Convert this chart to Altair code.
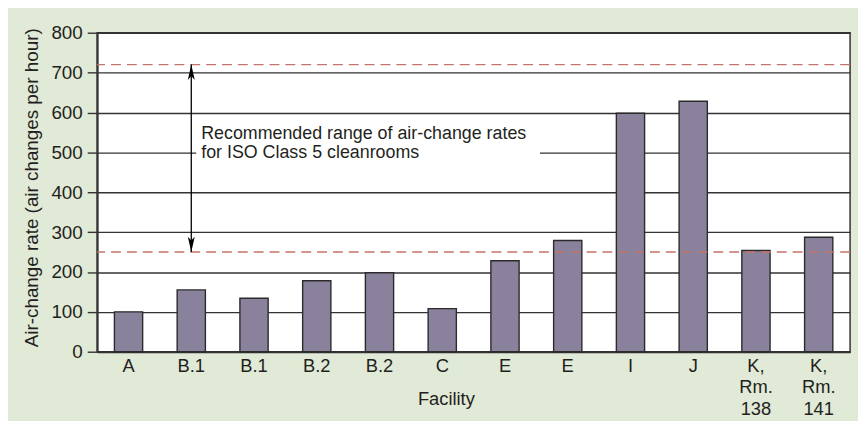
import json
import altair as alt
import pandas as pd

# ---- data ----
facilities = ["A", "B.1", "B.1", "B.2", "B.2", "C", "E", "E", "I", "J",
              "K,\nRm.\n138", "K,\nRm.\n141"]
rates = [100, 155, 134, 178, 198, 108, 228, 279, 598, 628, 254, 287]
range_low = 250
range_high = 720
arrow_index = 1
annotation = "Recommended range of air-change rates\nfor ISO Class 5 cleanrooms"
annotation_y = 533
box_bottom, box_top = 466, 578
box_end_index = 7
y_ticks = list(range(0, 801, 100))

FONT = "Liberation Sans"
TEXT = "#231f20"
GRID = "#333333"

df = pd.DataFrame({"idx": list(range(len(facilities))), "rate": rates})
label_expr = json.dumps([f.split("\n") for f in facilities]) + "[datum.value]"

x_scale = alt.Scale(paddingInner=0.55, paddingOuter=0.275)
y_scale = alt.Scale(domain=[0, 800], nice=False)

x_axis = alt.Axis(
    title="Facility", labelAngle=0, ticks=False, labelExpr=label_expr,
    labelFontSize=18.5, labelLineHeight=21.5, labelPadding=5, labelColor=TEXT,
    domainColor=GRID, domainWidth=2, grid=False,
    titleFontSize=18.5, titleFontWeight="normal", titleColor=TEXT,
    titleX=352, titleY=53, titleBaseline="alphabetic", titleAlign="center",
)
y_axis = alt.Axis(
    title="Air-change rate (air changes per hour)", values=y_ticks,
    grid=True, gridColor=GRID, gridWidth=1.4, gridOpacity=1,
    tickSize=10, tickColor=GRID, tickWidth=1.4,
    domainColor=GRID, domainWidth=2,
    labelFontSize=19, labelPadding=5, labelColor=TEXT,
    titleFontSize=19, titleFontWeight="normal", titleColor=TEXT,
    titleX=-60, titleY=156, titleBaseline="alphabetic", titleAlign="center",
)

bars = alt.Chart(df).mark_bar(
    fill="#8a819d", stroke="#2b2b2b", strokeWidth=1.4
).encode(
    x=alt.X("idx:O", scale=x_scale, axis=x_axis),
    y=alt.Y("rate:Q", scale=y_scale, axis=y_axis),
)

range_df = pd.DataFrame({"y": [range_low, range_high]})
dashed = alt.Chart(range_df).mark_rule(
    color="#c4746a", strokeDash=[10, 6], strokeWidth=1.5
).encode(y=alt.Y("y:Q", scale=y_scale))

box_df = pd.DataFrame({"x0": [arrow_index], "x1": [box_end_index],
                       "b": [box_bottom], "t": [box_top]})
box = alt.Chart(box_df).mark_rect(
    fill="white", xOffset=5, x2Offset=-28
).encode(
    x=alt.X("x0:O", scale=x_scale, bandPosition=0.5),
    x2=alt.X2("x1", bandPosition=0.5),
    y=alt.Y("b:Q", scale=y_scale),
    y2="t:Q",
)

arrow_df = pd.DataFrame({"idx": [arrow_index], "lo": [range_low], "hi": [range_high]})
arrow_line = alt.Chart(arrow_df).mark_rule(color="black", strokeWidth=1.3).encode(
    x=alt.X("idx:O", scale=x_scale), y=alt.Y("lo:Q", scale=y_scale), y2="hi:Q"
)
head_up = alt.Chart(arrow_df).mark_point(
    shape="M0,-1L0.45,1L0,0.5L-0.45,1Z", filled=True, color="black",
    opacity=1, size=240, yOffset=7.7
).encode(x=alt.X("idx:O", scale=x_scale), y=alt.Y("hi:Q", scale=y_scale))
head_down = alt.Chart(arrow_df).mark_point(
    shape="M0,1L0.45,-1L0,-0.5L-0.45,-1Z", filled=True, color="black",
    opacity=1, size=240, yOffset=-7.7
).encode(x=alt.X("idx:O", scale=x_scale), y=alt.Y("lo:Q", scale=y_scale))

text_df = pd.DataFrame({"idx": [arrow_index], "y": [annotation_y], "t": [annotation]})
label = alt.Chart(text_df).mark_text(
    align="left", baseline="alphabetic", dx=10, fontSize=18,
    lineBreak="\n", lineHeight=19.5, color=TEXT, font=FONT
).encode(x=alt.X("idx:O", scale=x_scale), y=alt.Y("y:Q", scale=y_scale), text="t:N")

chart = alt.layer(
    bars, dashed, box, arrow_line, head_up, head_down, label
).properties(
    width=760, height=322,
    padding={"left": 90, "top": 23, "right": 8, "bottom": 70},
    autosize=alt.AutoSizeParams(type="none"),
    background="#e1e9d7",
).configure(font=FONT).configure_view(
    stroke=GRID, strokeWidth=1.5, fill="white"
)

chart.save("out.html", embed_options={"renderer": "svg", "actions": False})
